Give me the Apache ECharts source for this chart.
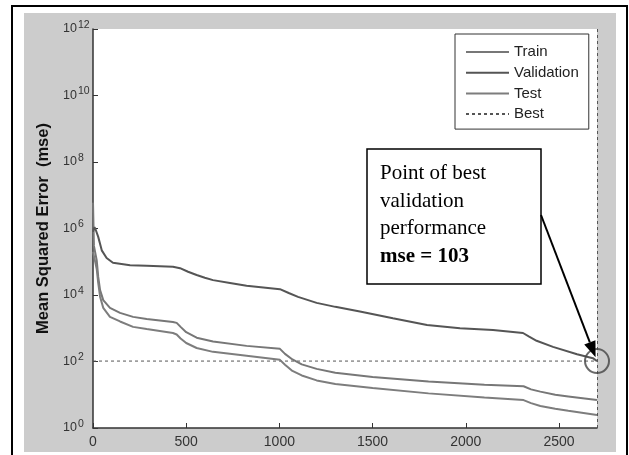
<!DOCTYPE html>
<html><head><meta charset="utf-8">
<script src="https://cdn.jsdelivr.net/npm/echarts@6/dist/echarts.min.js"></script>
<style>
html,body{margin:0;padding:0;background:#fff;}
#wrap{position:relative;width:629px;height:455px;overflow:hidden;background:#fff;}
#frame{position:absolute;left:11px;top:5px;width:613px;height:470px;border:2.5px solid #000;}
#grey{position:absolute;left:24px;top:13px;width:592px;height:439px;background:#cccccc;}
#c{position:absolute;left:0;top:0;width:629px;height:455px;}
</style>
</head><body>
<div id="wrap"><div id="frame"></div><div id="grey"></div><div id="c"></div></div>
<script>
// ---- data ----
const trainEpochs = [0, 5, 20, 28, 38, 55, 91, 145, 215, 288, 429, 449, 470, 500, 556, 644, 824, 1003, 1030, 1070, 1120, 1200, 1300, 1500, 1800, 2100, 2310, 2350, 2400, 2480, 2550, 2704];
const trainMse    = [6e6, 3e5, 1.1e5, 3.5e4, 1.4e4, 7e3, 4.1e3, 2.9e3, 2.2e3, 1.9e3, 1.55e3, 1.45e3, 1.1e3, 760, 520, 400, 295, 240, 170, 115, 82, 60, 46, 34, 25, 20, 18, 14.5, 12.4, 10, 8.9, 6.9];
const valEpochs   = [0, 8, 15, 28, 47, 73, 107, 199, 288, 429, 467, 510, 556, 600, 644, 735, 824, 1003, 1050, 1100, 1200, 1300, 1432, 1609, 1792, 1969, 2146, 2307, 2340, 2380, 2468, 2597, 2682, 2704];
const valMse      = [8e5, 1.1e6, 9e5, 5.6e5, 2.2e5, 1.3e5, 9.3e4, 7.9e4, 7.6e4, 7.1e4, 6.4e4, 5e4, 4e4, 3.3e4, 2.8e4, 2.3e4, 1.9e4, 1.5e4, 1.15e4, 8.8e3, 5.8e3, 4.4e3, 3.2e3, 2e3, 1.26e3, 1e3, 890, 720, 560, 420, 275, 166, 126, 103];
const testEpochs  = [0, 5, 20, 28, 38, 55, 91, 145, 215, 288, 429, 449, 470, 500, 556, 644, 824, 1003, 1030, 1070, 1120, 1200, 1300, 1500, 1800, 2100, 2310, 2350, 2400, 2480, 2550, 2704];
const testMse     = [2e5, 1.5e5, 6e4, 2.3e4, 8.9e3, 4.1e3, 2.2e3, 1.6e3, 1.1e3, 950, 720, 650, 490, 360, 255, 195, 148, 112, 80, 52, 38, 27, 21, 16, 11, 8.3, 6.9, 5.6, 4.6, 3.8, 3.3, 2.45];
const bestEpoch = 2704;
const bestMse = 103;
const xMax = 2704;
const xInterval = 500;
const yMin = 1, yMax = 1e12;
const legendNames = ['Train', 'Validation', 'Test', 'Best'];
const yAxisTitle = 'Mean Squared Error  (mse)';
const noteLines = ['Point of best', 'validation', 'performance', 'mse = 103'];

const zip = (xs, ys) => xs.map((x, i) => [x, ys[i]]);

const chart = echarts.init(document.getElementById('c'), null, {renderer: 'canvas'});
const FONT = 'Liberation Sans, Arial, sans-serif';
const curve = {type: 'line', symbol: 'none', z: 3};

chart.setOption({
  backgroundColor: 'transparent',
  animation: false,
  grid: {left: 93, top: 29, right: 32, bottom: 27, show: true, backgroundColor: '#fff', borderWidth: 0},
  legend: {
    data: legendNames,
    orient: 'vertical',
    left: 455, top: 34,
    padding: [10, 10, 7, 10],
    itemWidth: 43, itemHeight: 14, itemGap: 4.7,
    itemStyle: {opacity: 0},
    backgroundColor: '#fff', borderColor: '#333', borderWidth: 1,
    textStyle: {fontFamily: FONT, fontSize: 15, color: '#222', lineHeight: 16},
    selectedMode: false
  },
  xAxis: {
    type: 'value', min: 0, max: xMax, interval: xInterval,
    axisLine: {show: true, lineStyle: {color: '#333', width: 1.5}},
    axisTick: {show: true, inside: true, length: 5, lineStyle: {color: '#333'}},
    axisLabel: {fontFamily: FONT, fontSize: 14, color: '#333', margin: 7, showMaxLabel: false,
      formatter: v => String(v)},
    splitLine: {show: false}
  },
  yAxis: {
    type: 'log', logBase: 10, min: yMin, max: yMax, interval: 2,
    name: yAxisTitle, nameLocation: 'middle', nameGap: 35,
    nameTextStyle: {fontFamily: FONT, fontSize: 16.5, fontWeight: 'bold', color: '#111'},
    axisLine: {show: true, lineStyle: {color: '#333', width: 1.5}},
    axisTick: {show: true, inside: true, length: 5, lineStyle: {color: '#333'}},
    axisLabel: {
      margin: 30, align: 'left',
      formatter: v => '{b|10}{s|' + Math.round(Math.log10(v)) + '}',
      rich: {
        b: {fontFamily: FONT, fontSize: 12.5, color: '#333'},
        s: {fontFamily: FONT, fontSize: 10.5, color: '#333', padding: [0, 0, 8, 1]}
      }
    },
    splitLine: {show: false}
  },
  series: [
    Object.assign({}, curve, {name: 'Train', data: zip(trainEpochs, trainMse),
     lineStyle: {color: '#777', width: 2}, itemStyle: {color: '#777'}}),
    Object.assign({}, curve, {name: 'Validation', data: zip(valEpochs, valMse),
     lineStyle: {color: '#555', width: 2}, itemStyle: {color: '#555'}}),
    Object.assign({}, curve, {name: 'Test', data: zip(testEpochs, testMse),
     lineStyle: {color: '#7d7d7d', width: 2}, itemStyle: {color: '#7d7d7d'}}),
    {name: 'Best', type: 'line', data: [[0, bestMse], [bestEpoch, bestMse]], symbol: 'none',
     lineStyle: {color: '#555', width: 1, type: [3, 3]}, itemStyle: {color: '#555'}, z: 2,
     markLine: {silent: true, symbol: 'none', label: {show: false},
       lineStyle: {color: '#555', width: 1, type: [3, 3]},
       data: [{xAxis: bestEpoch}]}},
    {name: 'bestPoint', type: 'scatter', data: [[bestEpoch, bestMse]], symbol: 'circle', symbolSize: 24,
     clip: false, silent: true, z: 5,
     itemStyle: {color: 'rgba(0,0,0,0)', borderColor: '#444', borderWidth: 2}}
  ]
});

// annotation box with arrow to the best point
const c = chart.convertToPixel({seriesIndex: 4}, [bestEpoch, bestMse]);
const start = [541, 215];
let dx = c[0] - start[0], dy = c[1] - start[1];
const L = Math.hypot(dx, dy); dx /= L; dy /= L;
const tip = [c[0] - dx * 4, c[1] - dy * 4];
const headLen = 16, headW = 6;
const base = [tip[0] - dx * headLen, tip[1] - dy * headLen];
const px = -dy, py = dx;
const textEls = noteLines.map((t, i) => ({
  type: 'text', left: 380, top: 175 + i * 27.7 - 12,
  style: {text: t, fill: '#000', font: (i === 3 ? 'bold ' : '') + '21px "Liberation Serif", "Times New Roman", serif'},
  z: 20
}));
chart.setOption({
  graphic: [
    {type: 'rect', shape: {x: 367, y: 149, width: 174, height: 135},
     style: {fill: '#fff', stroke: '#000', lineWidth: 1.5}, z: 19},
    ...textEls,
    {type: 'line', shape: {x1: start[0], y1: start[1], x2: base[0], y2: base[1]},
     style: {stroke: '#000', lineWidth: 2}, z: 20},
    {type: 'polygon', shape: {points: [tip, [base[0] + px * headW, base[1] + py * headW], [base[0] - px * headW, base[1] - py * headW]]},
     style: {fill: '#000'}, z: 20}
  ]
});
</script>
</body></html>
